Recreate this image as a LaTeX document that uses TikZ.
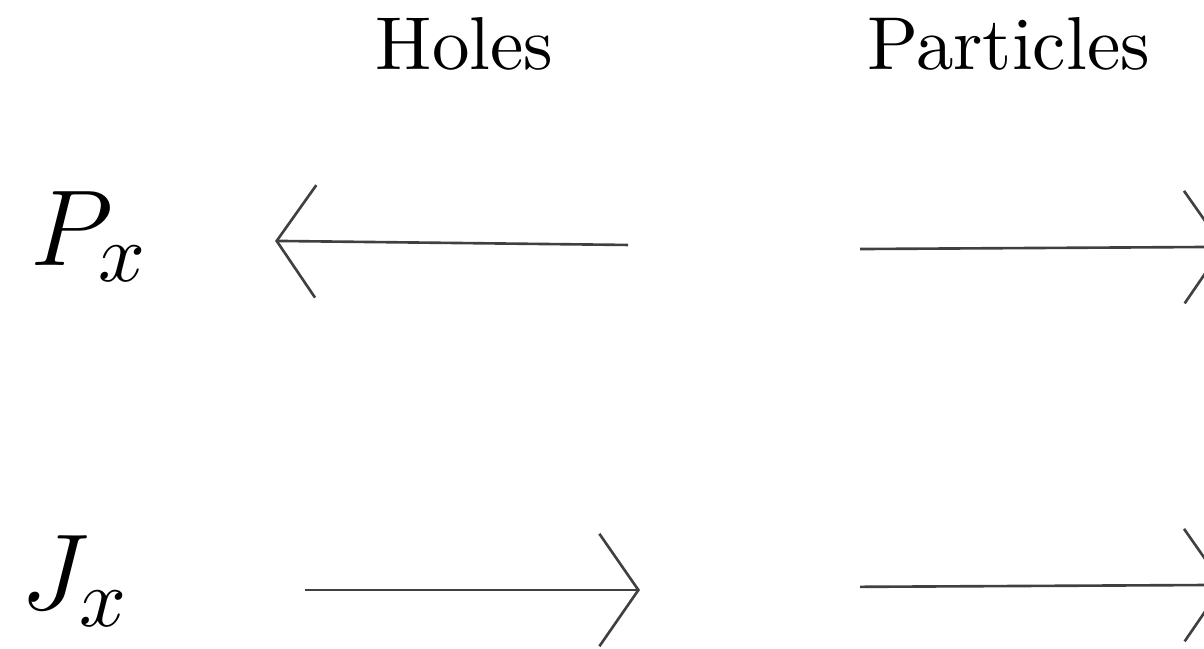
\documentclass[tikz,border=0pt]{standalone}
\usepackage{amsmath,amssymb}
\usetikzlibrary{arrows.meta}

\begin{document}
\begin{tikzpicture}[flow/.style={line width=0.35pt, black!75, -{Straight Barb[length=5.2pt, width=15pt, line width=0.35pt]}},
    big/.style={inner sep=0pt, font=\fontsize{15.5}{18}\selectfont}]
    \useasboundingbox (0,0) rectangle (5.642,3.041);
    \node[anchor=base] (holes) at (2.177,2.713) {Holes};
    \node[anchor=base] (particles) at (4.726,2.713) {Particles};
    \node[big, anchor=base west] (px) at (0.135,1.799) {$P_x$};
    \node[big, anchor=base west] (jx) at (0.090,0.183) {$J_x$};
    \coordinate (ph-s) at (2.943,1.893);
    \coordinate (ph-e) at (1.289,1.912);
    \coordinate (pp-s) at (4.030,1.874);
    \coordinate (pp-e) at (5.740,1.884);
    \coordinate (jh-s) at (1.429,0.276);
    \coordinate (jh-e) at (2.999,0.276);
    \coordinate (jp-s) at (4.030,0.291);
    \coordinate (jp-e) at (5.740,0.300);
    \draw[flow] (ph-s) -- (ph-e);
    \draw[flow] (pp-s) -- (pp-e);
    \draw[flow] (jh-s) -- (jh-e);
    \draw[flow] (jp-s) -- (jp-e);
\end{tikzpicture}
\end{document}
